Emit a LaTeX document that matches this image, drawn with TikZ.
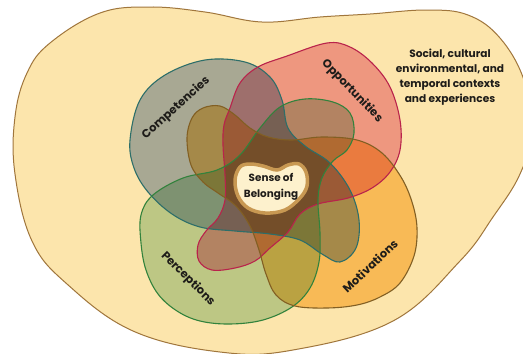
\documentclass[tikz,border=0pt]{standalone}
\usepackage{fontspec}
\setmainfont{Poppins}
\definecolor{bgbeige}{RGB}{252,229,172}
\definecolor{outerline}{RGB}{160,118,60}
\definecolor{compF}{RGB}{170,188,219}
\definecolor{oppF}{RGB}{241,169,189}
\definecolor{percF}{RGB}{192,222,197}
\definecolor{motF}{RGB}{251,208,128}
\definecolor{compL}{RGB}{45,110,105}
\definecolor{oppL}{RGB}{185,35,75}
\definecolor{percL}{RGB}{50,130,60}
\definecolor{motL}{RGB}{130,95,35}
\definecolor{blobF}{RGB}{253,241,205}
\definecolor{blobL}{RGB}{200,152,82}
\definecolor{txt}{RGB}{30,28,25}
\begin{document}
\begin{tikzpicture}[x=1pt,y=-1pt,
  lab/.style={font=\bfseries\fontsize{11.5}{13}\selectfont, text=txt, inner sep=0pt},
  petal/.style={line width=1.1pt}]
\useasboundingbox (0,0) rectangle (523,354);
\clip (0,0) rectangle (523,354);
\fill[white] (0,0) rectangle (523,354);
% outer context shape
\filldraw[fill=bgbeige, draw=outerline, line width=1pt]
  plot[smooth cycle, tension=0.65] coordinates {(150,7) (205,12) (262,22) (320,17) (370,14) (427,10) (468,15) (500,38) (524,80) (532,130) (520,174) (493,217) (460,261) (393,321) (293,350) (220,352) (133,331) (67,284) (32,241) (15,174) (15,117) (27,73) (50,43) (100,13)};
% petal fills, multiplied
\begin{scope}[blend mode=multiply]
\fill[compF] plot[smooth cycle, tension=0.6] coordinates {(130,140) (140,100) (165,75) (205,60) (245,62) (270,77) (282,100) (288,128) (305,146) (330,163) (350,190) (359,220) (356,248) (340,262) (322,254) (300,240) (270,234) (235,231) (200,227) (172,214) (148,192) (134,168)};
\fill[oppF] plot[smooth cycle, tension=0.6] coordinates {(230,108) (240,83) (258,67) (287,56) (327,43) (350,47) (372,63) (390,87) (400,120) (400,150) (390,172) (372,188) (348,198) (318,204) (300,214) (288,232) (270,248) (255,261) (235,268) (212,270) (199,261) (198,245) (206,231) (218,218) (225,200) (225,175) (223,145) (224,125)};
\fill[percF] plot[smooth cycle, tension=0.6] coordinates {(141,215) (153,195) (183,178) (217,170) (240,155) (260,128) (280,107) (305,99) (333,102) (350,113) (354,133) (347,150) (333,161) (322,178) (318,200) (320,233) (319,262) (310,288) (292,307) (263,320) (230,324) (200,321) (177,311) (158,294) (146,270) (141,243)};
\fill[motF] plot[smooth cycle, tension=0.6] coordinates {(187,138) (192,118) (203,108) (220,106) (235,115) (250,128) (268,137) (292,140) (322,137) (357,140) (382,153) (401,177) (412,202) (417,228) (414,256) (400,283) (380,297) (357,305) (327,308) (295,306) (276,295) (266,274) (259,250) (250,226) (236,206) (218,193) (203,182) (191,165)};
\end{scope}
% petal outlines
\draw[petal, compL] plot[smooth cycle, tension=0.6] coordinates {(130,140) (140,100) (165,75) (205,60) (245,62) (270,77) (282,100) (288,128) (305,146) (330,163) (350,190) (359,220) (356,248) (340,262) (322,254) (300,240) (270,234) (235,231) (200,227) (172,214) (148,192) (134,168)};
\draw[petal, oppL] plot[smooth cycle, tension=0.6] coordinates {(230,108) (240,83) (258,67) (287,56) (327,43) (350,47) (372,63) (390,87) (400,120) (400,150) (390,172) (372,188) (348,198) (318,204) (300,214) (288,232) (270,248) (255,261) (235,268) (212,270) (199,261) (198,245) (206,231) (218,218) (225,200) (225,175) (223,145) (224,125)};
\draw[petal, percL] plot[smooth cycle, tension=0.6] coordinates {(141,215) (153,195) (183,178) (217,170) (240,155) (260,128) (280,107) (305,99) (333,102) (350,113) (354,133) (347,150) (333,161) (322,178) (318,200) (320,233) (319,262) (310,288) (292,307) (263,320) (230,324) (200,321) (177,311) (158,294) (146,270) (141,243)};
\draw[petal, motL] plot[smooth cycle, tension=0.6] coordinates {(187,138) (192,118) (203,108) (220,106) (235,115) (250,128) (268,137) (292,140) (322,137) (357,140) (382,153) (401,177) (412,202) (417,228) (414,256) (400,283) (380,297) (357,305) (327,308) (295,306) (276,295) (266,274) (259,250) (250,226) (236,206) (218,193) (203,182) (191,165)};
% central blob
\filldraw[fill=blobF, draw=blobL, line width=3.5pt]
  plot[smooth cycle, tension=0.6] coordinates {(235,180) (240,167) (250,164) (263,166) (277,170) (288,165) (299,164) (306,172) (307,186) (300,198) (285,210) (265,213) (248,208) (238,196)};
% labels
\node[lab, rotate=42] (comp) at (176,108) {Competencies};
\node[lab, rotate=-46] (opp) at (352,91) {Opportunities};
\node[lab, rotate=-45] (perc) at (188,279) {Perceptions};
\node[lab, rotate=43] (mot) at (370,266) {Motivations};
\node[lab, align=center, font=\bfseries\fontsize{10.6}{14.8}\selectfont] (ctx) at (450,77) {Social, cultural\\environmental, and\\temporal contexts\\and experiences};
\node[lab, align=center, font=\bfseries\fontsize{10.4}{16}\selectfont] (sob) at (271,187) {Sense of\\Belonging};
\end{tikzpicture}
\end{document}
